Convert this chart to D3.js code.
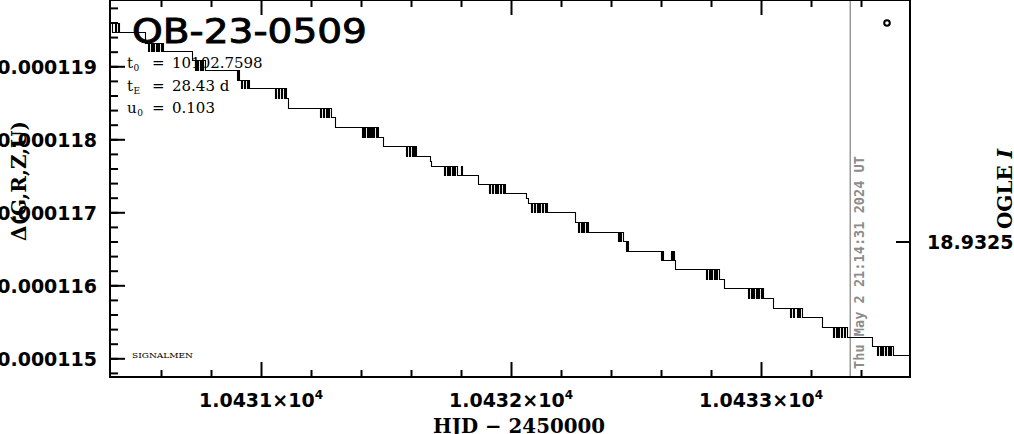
<!DOCTYPE html>
<html><head><meta charset="utf-8">
<script src="https://cdn.jsdelivr.net/npm/d3@7"></script>
<style>body{margin:0;background:#fff;} svg{display:block}</style>
</head><body><svg id="c" width="1014" height="434"></svg>
<script>
// ---- data: [HJD - 2450000, flux offset in units of 1e-6] ----
const lightCurve = [
[10430.396,119.597],[10430.404,119.474],[10430.416,119.597],[10430.420,119.474],[10430.428,119.597],[10430.432,119.474],
[10430.536,119.315],
[10430.548,119.214],[10430.552,119.315],[10430.560,119.214],[10430.564,119.315],[10430.568,119.214],[10430.572,119.315],
[10430.580,119.214],[10430.584,119.315],[10430.588,119.214],[10430.592,119.315],[10430.600,119.214],[10430.604,119.315],[10430.608,119.214],
[10430.724,119.086],
[10430.736,118.949],[10430.740,119.086],[10430.744,118.949],[10430.748,119.086],[10430.756,118.949],[10430.760,119.086],
[10430.764,118.949],[10430.768,119.086],[10430.776,118.949],
[10430.904,118.812],[10430.908,118.949],[10430.912,118.812],[10430.920,118.699],[10430.924,118.812],[10430.932,118.699],
[10430.936,118.812],[10430.944,118.699],[10430.948,118.812],[10430.952,118.699],
[10431.056,118.566],[10431.060,118.699],[10431.068,118.566],[10431.072,118.699],[10431.080,118.566],[10431.084,118.699],
[10431.092,118.566],[10431.096,118.699],[10431.100,118.566],[10431.108,118.429],
[10431.236,118.301],[10431.240,118.429],[10431.248,118.301],[10431.252,118.429],[10431.260,118.301],[10431.264,118.429],
[10431.268,118.301],[10431.272,118.429],[10431.280,118.301],
[10431.296,118.164],
[10431.404,118.036],[10431.408,118.164],[10431.412,118.036],[10431.416,118.164],[10431.424,118.036],[10431.428,118.164],
[10431.432,118.036],[10431.436,118.164],[10431.440,118.036],[10431.444,118.164],[10431.448,118.036],[10431.452,118.164],
[10431.460,118.036],[10431.464,118.164],[10431.468,118.036],
[10431.488,117.904],
[10431.580,117.771],[10431.584,117.904],[10431.592,117.771],[10431.596,117.904],[10431.604,117.771],[10431.608,117.904],
[10431.612,117.771],[10431.616,117.904],[10431.620,117.771],
[10431.676,117.700],[10431.680,117.638],
[10431.732,117.515],[10431.736,117.638],[10431.744,117.515],[10431.748,117.638],[10431.752,117.515],[10431.756,117.638],
[10431.764,117.515],[10431.768,117.638],[10431.772,117.515],[10431.776,117.638],[10431.784,117.515],[10431.800,117.638],[10431.804,117.515],
[10431.868,117.388],
[10431.912,117.260],[10431.916,117.388],[10431.924,117.260],[10431.928,117.388],[10431.936,117.260],[10431.940,117.388],
[10431.944,117.260],[10431.948,117.388],[10431.956,117.260],[10431.960,117.388],[10431.968,117.260],[10431.972,117.388],[10431.976,117.260],
[10432.060,117.200],[10432.068,117.127],
[10432.080,117.000],[10432.084,117.127],[10432.092,117.000],[10432.096,117.127],[10432.104,117.000],[10432.108,117.127],
[10432.112,117.000],[10432.116,117.127],[10432.124,117.000],[10432.128,117.127],[10432.136,117.000],[10432.140,117.127],[10432.144,117.000],
[10432.256,116.867],
[10432.268,116.730],[10432.272,116.867],[10432.280,116.730],[10432.284,116.867],[10432.288,116.730],[10432.292,116.867],
[10432.300,116.730],[10432.304,116.867],[10432.308,116.730],
[10432.428,116.607],[10432.432,116.730],[10432.436,116.607],[10432.440,116.730],[10432.448,116.607],
[10432.460,116.466],[10432.464,116.607],[10432.468,116.466],
[10432.600,116.347],[10432.604,116.466],[10432.608,116.347],[10432.640,116.466],[10432.644,116.347],[10432.648,116.466],[10432.652,116.347],
[10432.656,116.219],
[10432.780,116.086],[10432.784,116.219],[10432.792,116.086],[10432.796,116.219],[10432.800,116.086],[10432.804,116.219],
[10432.812,116.086],[10432.816,116.219],[10432.820,116.086],[10432.824,116.219],[10432.832,116.086],
[10432.852,115.963],
[10432.948,115.822],[10432.952,115.963],[10432.960,115.822],[10432.964,115.963],[10432.968,115.822],[10432.972,115.963],
[10432.980,115.822],[10432.984,115.963],[10432.988,115.822],[10432.992,115.963],[10433.000,115.822],[10433.004,115.963],[10433.008,115.822],
[10433.048,115.693],
[10433.116,115.566],[10433.120,115.693],[10433.128,115.566],[10433.132,115.693],[10433.144,115.566],[10433.148,115.693],
[10433.152,115.566],[10433.156,115.693],[10433.164,115.566],
[10433.244,115.429],
[10433.288,115.296],[10433.292,115.429],[10433.300,115.296],[10433.304,115.429],[10433.308,115.296],[10433.312,115.429],
[10433.320,115.296],[10433.324,115.429],[10433.332,115.296],[10433.336,115.429],[10433.344,115.296],
[10433.444,115.164],
[10433.464,115.041],[10433.468,115.164],[10433.476,115.041],[10433.480,115.164],[10433.484,115.041],[10433.488,115.164],
[10433.496,115.041],[10433.500,115.164],[10433.508,115.041],[10433.512,115.164],[10433.516,115.041],[10433.520,115.164],[10433.528,115.041],
[10433.596,115.041]
];
const ogleHjd = [10433.504];
const ogleMag = [18.92813];
const yMajorTicks = [0.000115, 0.000116, 0.000117, 0.000118, 0.000119];
const xMajorTicks = [10431, 10432, 10433];
const xTickMantissa = ["1.0431", "1.0432", "1.0433"];
const ogleTicks = [18.9325];
const params = [["t","0","10102.7598"],["t","E","28.43 d"],["u","0","0.103"]];
const titleText = "OB-23-0509";
const stampText = "Thu May  2 21:14:31 2024 UT";
const nowHjd = 10433.357;

// ---- layout ----
const L = 110, R = 910, T = 0, B = 377;
const svg = d3.select("#c");
const x = d3.scaleLinear().domain([10430.396, 10433.596]).range([L, R]);
const y = d3.scaleLinear().domain([114.744e-6, 119.908e-6]).range([B, T]);
const y2 = d3.scaleLinear().domain([18.93521, 18.92767]).range([B, T]);

svg.append("defs").append("clipPath").attr("id","clip")
  .append("rect").attr("x",L).attr("y",T).attr("width",R-L).attr("height",B-T);

// gray "now" line
svg.append("line").attr("x1",x(nowHjd)).attr("x2",x(nowHjd)).attr("y1",T).attr("y2",B)
  .attr("stroke","#9a9a9a").attr("stroke-width",1.5);
svg.append("text").attr("transform",`translate(${x(nowHjd)+14},369) rotate(-90)`)
  .attr("font-family","DejaVu Sans Mono").attr("font-weight","bold").attr("font-size",14)
  .attr("fill","#8c8c8c").attr("textLength",213).attr("lengthAdjust","spacingAndGlyphs")
  .text(stampText);

// data line
const pts = lightCurve.map(d=>[d[0], d[1]*1e-6]);
const line = d3.line().x(d=>Math.round(x(d[0]))+0.5).y(d=>Math.round(y(d[1]))+0.5).curve(d3.curveStepAfter);
svg.append("path").datum(pts).attr("d",line).attr("clip-path","url(#clip)")
  .attr("fill","none").attr("stroke","#000").attr("stroke-width",1.1);

// OGLE point
svg.selectAll("circle.og").data(ogleHjd).join("circle").attr("class","og")
  .attr("cx",(d)=>x(d)).attr("cy",(d,i)=>y2(ogleMag[i])).attr("r",2.8)
  .attr("fill","none").attr("stroke","#000").attr("stroke-width",2);

// axes helpers
function styleAxis(g){ g.select(".domain").remove(); g.selectAll("line").attr("stroke","#000").attr("stroke-width",2); }
const xMinor = d3.range(0,16).map(i=>+(10430.4+0.2*i).toFixed(1)).filter(v=>!xMajorTicks.includes(v) && x(v)>L+2 && x(v)<R-2);
const yMinor = d3.range(0,26).map(i=>+((114.8+0.2*i)*1e-6).toFixed(10)).filter(v=>y(v)>T+2 && y(v)<B-2);

// bottom
svg.append("g").attr("transform",`translate(0,${B})`).call(d3.axisBottom(x).tickValues(xMajorTicks).tickSize(-15).tickFormat("")).call(styleAxis);
svg.append("g").attr("transform",`translate(0,${B})`).call(d3.axisBottom(x).tickValues(xMinor).tickSize(-7).tickFormat("")).call(styleAxis);
// top
svg.append("g").attr("transform",`translate(0,${T})`).call(d3.axisTop(x).tickValues(xMajorTicks).tickSize(-15).tickFormat("")).call(styleAxis);
svg.append("g").attr("transform",`translate(0,${T})`).call(d3.axisTop(x).tickValues(xMinor).tickSize(-7).tickFormat("")).call(styleAxis);
// left
const gl = svg.append("g").attr("transform",`translate(${L},0)`).call(d3.axisLeft(y).tickValues(yMajorTicks).tickSize(-15).tickPadding(13).tickFormat(d3.format(".6f"))).call(styleAxis);
gl.selectAll("text").attr("font-family","DejaVu Sans").attr("font-weight","bold").attr("font-size",19).attr("fill","#000").attr("dy","0.36em");
svg.append("g").attr("transform",`translate(${L},0)`).call(d3.axisLeft(y).tickValues(yMinor).tickSize(-8).tickFormat("")).call(styleAxis);
// right (OGLE)
const gr = svg.append("g").attr("transform",`translate(${R},0)`).call(d3.axisRight(y2).tickValues(ogleTicks).tickSize(-14).tickPadding(17).tickFormat(d3.format(".4f"))).call(styleAxis);
gr.selectAll("text").attr("font-family","DejaVu Sans").attr("font-weight","bold").attr("font-size",19).attr("fill","#000").attr("dy","0.36em");

// bottom tick labels with superscripts
const xl = svg.append("g").selectAll("text").data(xMajorTicks).join("text")
  .attr("x",d=>x(d)).attr("y",407).attr("text-anchor","middle")
  .attr("font-family","DejaVu Sans").attr("font-weight","bold").attr("font-size",19).attr("fill","#000");
xl.append("tspan").text((d,i)=>xTickMantissa[i]+"×10");
xl.append("tspan").attr("dy",-8).attr("font-size",12).text("4");

// frame
svg.append("rect").attr("x",L).attr("y",T).attr("width",R-L).attr("height",B-T)
  .attr("fill","none").attr("stroke","#000").attr("stroke-width",2);

// axis titles
svg.append("text").attr("x",(L+R)/2+9).attr("y",433).attr("text-anchor","middle")
  .attr("font-family","DejaVu Serif").attr("font-weight","bold").attr("font-size",20)
  .attr("textLength",172).attr("lengthAdjust","spacingAndGlyphs").text("HJD − 2450000");
svg.append("text").attr("transform","translate(26,181) rotate(-90)").attr("text-anchor","middle")
  .attr("font-family","DejaVu Serif").attr("font-weight","bold").attr("font-size",20)
  .attr("textLength",120).attr("lengthAdjust","spacingAndGlyphs").text("Δ(G,R,Z,U)");
const og = svg.append("text").attr("transform","translate(1012,189) rotate(-90)").attr("text-anchor","middle")
  .attr("font-family","DejaVu Serif").attr("font-weight","bold").attr("font-size",20);
og.append("tspan").text("OGLE ");
og.append("tspan").attr("font-style","italic").text("I");

// title
svg.append("text").attr("x",132).attr("y",43).attr("font-family","DejaVu Sans").attr("font-size",34)
  .attr("textLength",235).attr("lengthAdjust","spacingAndGlyphs").attr("fill","#000")
  .attr("stroke","#000").attr("stroke-width",0.9).text(titleText);

// parameters
const pg = svg.append("g").attr("font-family","DejaVu Serif").attr("font-size",15).attr("fill","#000");
params.forEach((p,i)=>{
  const by = 68 + i*22.5;
  const sym = pg.append("text").attr("x",127).attr("y",by).text(p[0]);
  const w = sym.node().getComputedTextLength();
  pg.append("text").attr("x",127+w+0.5).attr("y",by+3).attr("font-size",9).text(p[1]);
  pg.append("text").attr("x",152).attr("y",by).text("=");
  pg.append("text").attr("x",172).attr("y",by).text(p[2]);
});
svg.append("text").attr("x",132).attr("y",358).attr("font-family","DejaVu Serif").attr("font-size",8)
  .attr("textLength",61).attr("lengthAdjust","spacingAndGlyphs").text("SIGNALMEN");
</script></body></html>
